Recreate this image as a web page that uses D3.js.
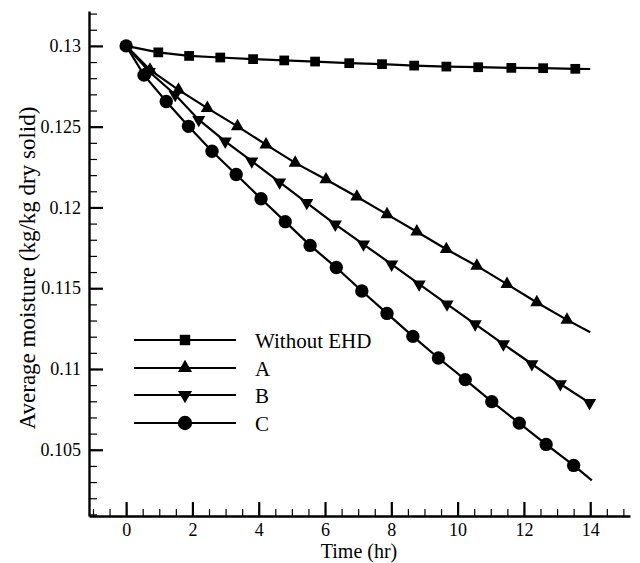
<!DOCTYPE html>
<html lang="en">
<head>
<meta charset="utf-8">
<script src="https://d3js.org/d3.v7.min.js"></script>
<style>
  body { margin: 0; background: #fff; }
  svg text { font-family: "Liberation Serif", "Times New Roman", serif; fill: #000; }
  .axis path, .axis line { stroke: #000; }
</style>
</head>
<body>
<svg id="chart" width="640" height="563"></svg>
<script>
const seriesNames = ["Without EHD", "A", "B", "C"];

const noEhdTime = [0, 0.97, 1.90, 2.84, 3.83, 4.77, 5.70, 6.73, 7.72, 8.69, 9.66, 10.62, 11.62, 12.58, 13.55, 14];
const noEhdMoist = [0.13, 0.1296, 0.12938, 0.12928, 0.12918, 0.1291, 0.12903, 0.12893, 0.12887, 0.12878, 0.12872, 0.12868, 0.12864, 0.12862, 0.12858, 0.12857];

const aTime = [0, 0.72, 1.58, 2.45, 3.36, 4.22, 5.10, 6.03, 6.96, 7.87, 8.77, 9.66, 10.58, 11.49, 12.39, 13.30, 14];
const aMoist = [0.13, 0.12852, 0.12728, 0.12615, 0.12502, 0.12389, 0.12276, 0.12173, 0.12066, 0.11957, 0.1185, 0.11741, 0.11638, 0.11525, 0.11412, 0.11304, 0.11227];

const bTime = [0, 0.70, 1.48, 2.19, 2.99, 3.79, 4.63, 5.45, 6.31, 7.16, 8.01, 8.84, 9.68, 10.53, 11.38, 12.24, 13.10, 13.98];
const bMoist = [0.13, 0.1284, 0.12698, 0.12543, 0.12409, 0.12286, 0.12156, 0.12029, 0.11895, 0.11772, 0.11648, 0.11525, 0.11401, 0.11278, 0.11154, 0.11031, 0.10907, 0.1079];

const cTime = [0, 0.54, 1.21, 1.88, 2.59, 3.32, 4.07, 4.80, 5.55, 6.34, 7.11, 7.87, 8.65, 9.42, 10.23, 11.03, 11.86, 12.67, 13.50, 14.05];
const cMoist = [0.13, 0.12819, 0.12656, 0.12502, 0.12348, 0.12204, 0.12054, 0.11912, 0.11765, 0.11628, 0.11483, 0.11344, 0.11202, 0.11068, 0.10934, 0.10798, 0.10665, 0.10533, 0.10403, 0.1031];

const xTicks = [0, 2, 4, 6, 8, 10, 12, 14];
const yTicks = [0.105, 0.11, 0.115, 0.12, 0.125, 0.13];

const svg = d3.select("#chart");

const x = d3.scaleLinear().domain([-1.12, 15.2]).range([89, 630]);
const y = d3.scaleLinear().domain([0.1009, 0.13216]).range([516, 11]);

// which points get a marker (the start is hidden under the circle)
const series = [
  { name: seriesNames[0], t: noEhdTime, m: noEhdMoist, sym: d3.symbolSquare, size: 95, rot: 0, first: 1, last: noEhdTime.length - 2 },
  { name: seriesNames[1], t: aTime, m: aMoist, sym: d3.symbolTriangle, size: 75, rot: 0, first: 1, last: aTime.length - 2 },
  { name: seriesNames[2], t: bTime, m: bMoist, sym: d3.symbolTriangle, size: 75, rot: 180, first: 1, last: bTime.length - 1 },
  { name: seriesNames[3], t: cTime, m: cMoist, sym: d3.symbolCircle, size: 140, rot: 0, first: 0, last: cTime.length - 2 }
];

// minor ticks
svg.append("g").attr("class", "axis")
  .attr("transform", "translate(0,516)")
  .call(d3.axisBottom(x).tickValues(d3.range(-1, 15.01, 0.5)).tickSize(-7).tickFormat(""))
  .call(g => g.select(".domain").remove())
  .selectAll("line").attr("stroke-width", 1.2);

svg.append("g").attr("class", "axis")
  .attr("transform", "translate(89,0)")
  .call(d3.axisLeft(y).tickValues(d3.range(0.101, 0.1322, 0.001)).tickSize(-8).tickFormat(""))
  .call(g => g.select(".domain").remove())
  .selectAll("line").attr("stroke-width", 1.2);

// major ticks
let xAxis = svg.append("g").attr("class", "axis")
  .attr("transform", "translate(0,516)")
  .call(d3.axisBottom(x).tickValues(xTicks).tickSizeInner(-14).tickSizeOuter(0).tickPadding(7).tickFormat(d3.format("d")));
xAxis.attr("font-family", "Liberation Serif");
xAxis.selectAll("line").attr("stroke-width", 2.2);
xAxis.select(".domain").attr("stroke-width", 2.4);
xAxis.selectAll("text").attr("font-size", 18);

let yAxis = svg.append("g").attr("class", "axis")
  .attr("transform", "translate(89,0)")
  .call(d3.axisLeft(y).tickValues(yTicks).tickSizeInner(-14).tickSizeOuter(0).tickPadding(8).tickFormat(d => String(+d.toFixed(3))));
yAxis.attr("font-family", "Liberation Serif");
yAxis.selectAll("line").attr("stroke-width", 2.2);
yAxis.select(".domain").attr("stroke-width", 2.4);
yAxis.selectAll("text").attr("font-size", 18);

// series
const line = d3.line().x(d => x(d[0])).y(d => y(d[1]));

series.forEach(s => {
  const pts = s.t.map((t, i) => [t, s.m[i]]);
  svg.append("path")
    .attr("d", line(pts))
    .attr("fill", "none")
    .attr("stroke", "#000")
    .attr("stroke-width", 2.2);

  svg.append("g").selectAll("path")
    .data(pts.filter((p, i) => i >= s.first && i <= s.last))
    .join("path")
    .attr("d", d3.symbol().type(s.sym).size(s.size))
    .attr("transform", d => `translate(${x(d[0])},${y(d[1])}) rotate(${s.rot})`)
    .attr("fill", "#000");
});

// legend
const legendY = [340, 368, 395, 423];
const legend = svg.append("g");
series.forEach((s, i) => {
  legend.append("line")
    .attr("x1", 134).attr("x2", 236)
    .attr("y1", legendY[i]).attr("y2", legendY[i])
    .attr("stroke", "#000").attr("stroke-width", 2.2);
  legend.append("path")
    .attr("d", d3.symbol().type(s.sym).size(s.size * 1.15))
    .attr("transform", `translate(185,${legendY[i]}) rotate(${s.rot})`)
    .attr("fill", "#000");
  legend.append("text")
    .attr("x", 255).attr("y", legendY[i] + 7.5)
    .attr("font-size", 21)
    .text(s.name);
});

// axis titles
svg.append("text")
  .attr("x", 359).attr("y", 558)
  .attr("text-anchor", "middle")
  .attr("font-size", 20)
  .text("Time (hr)");

svg.append("text")
  .attr("transform", "translate(35,268) rotate(-90)")
  .attr("text-anchor", "middle")
  .attr("font-size", 23)
  .text("Average moisture (kg/kg dry solid)");
</script>
</body>
</html>
